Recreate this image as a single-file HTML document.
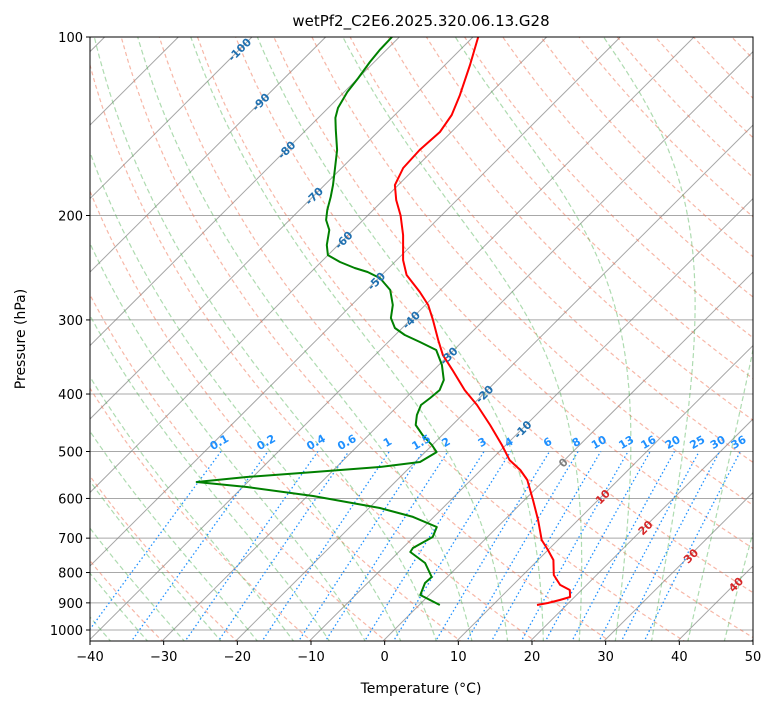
<!DOCTYPE html>
<html><head><meta charset="utf-8"><style>
html,body{margin:0;padding:0;background:#fff;}
svg{display:block;font-family:"DejaVu Sans","Liberation Sans",sans-serif;}
</style></head><body>
<svg id="chart" width="775" height="708" viewBox="0 0 775 708" xmlns="http://www.w3.org/2000/svg">
<defs><clipPath id="clip"><rect x="90" y="37" width="663" height="604"/></clipPath></defs>
<text x="421" y="26" text-anchor="middle" font-size="15">wetPf2_C2E6.2025.320.06.13.G28</text>
<g id="bg" clip-path="url(#clip)"></g>
<g id="data" clip-path="url(#clip)"></g>
<g id="labels"></g>
<rect x="90" y="37" width="663" height="604" fill="none" stroke="#000" stroke-width="1"/>
<g id="axes"></g>
<text x="421" y="693" text-anchor="middle" font-size="14">Temperature (°C)</text>
<text x="25" y="339" text-anchor="middle" font-size="14" transform="rotate(-90 25 339)">Pressure (hPa)</text>
</svg>
<script>
const tempPressure=[100,111.5,125.3,135.4,144.6,155.1,166.3,177.7,188.3,200,215.8,237.8,252,269.2,283.1,300.2,324.3,343.9,364.3,393.9,417.5,451.2,487.5,516.9,537.3,558.5,603.6,652.3,705,732.8,761.9,807.6,839.5,856,879.7,890,900.5,907.6];
const tempValues=[-69.3,-66.6,-63.9,-62.3,-61.6,-61.9,-61.7,-60.5,-58.3,-55.6,-52.6,-49.2,-46.7,-42.6,-39.7,-37.0,-33.6,-30.9,-27.6,-23.2,-19.5,-15.0,-10.7,-7.6,-4.8,-2.5,1.0,4.4,7.6,9.8,11.9,14.0,16.2,18.2,19.2,18.2,17.0,15.8];
const dewPressure=[100,105.2,110.2,117.3,123.8,131.7,136.9,143.5,155.1,167.6,177.7,186.1,195.7,203.5,211.6,224.3,233.2,239.6,245.2,249.1,255,267.1,283.1,297.8,309.5,318.1,326.9,337.2,357.3,378.8,393.9,406.3,417.5,434,451.2,469.1,487.5,501.1,520.9,531.1,541.6,552.1,562.9,574,594.3,622.7,644.7,670.3,696.9,727.2,738.8,770.9,814,833.1,873,907.6];
const dewValues=[-81.0,-80.9,-80.6,-80.0,-79.6,-78.7,-77.7,-76.0,-73.1,-70.7,-68.9,-67.6,-66.3,-65.1,-63.3,-61.6,-60.1,-57.5,-54.7,-52.4,-49.9,-46.9,-44.5,-43.0,-41.1,-38.8,-35.8,-32.5,-29.7,-27.4,-26.6,-26.8,-27.1,-26.3,-25.1,-22.8,-20.2,-18.6,-19.5,-24.3,-32.7,-41.0,-47.1,-39.6,-29.4,-18.7,-13.0,-8.4,-7.6,-8.8,-8.6,-5.1,-2.3,-2.4,-1.4,2.6];
const xTicks=[-40,-30,-20,-10,0,10,20,30,40,50];
const pTicks=[100,200,300,400,500,600,700,800,900,1000];
const mixRatios=[0.1,0.2,0.4,0.6,1,1.5,2,3,4,6,8,10,13,16,20,25,30,36];
const isoLabelT=[-100,-90,-80,-70,-60,-50,-40,-30,-20,-10,0,10,20,30,40];
const isoLabelP=[105,128.7,155,185.4,220,258,300,345,400,459,522,596,672,750,838];

const NS="http://www.w3.org/2000/svg";
const L=90,R=753,T=37,B=641,PXT=(R-L)/90,DEC=593;
function yOf(p){return T+DEC*Math.log10(p/100);}
function xOf(t,p){return L+(t+40)*PXT+(B-yOf(p));}
function mk(tag,attrs,parent){const e=document.createElementNS(NS,tag);for(const k in attrs)e.setAttribute(k,attrs[k]);parent.appendChild(e);return e;}
const bg=document.getElementById('bg'),dg=document.getElementById('data'),lg=document.getElementById('labels'),ax=document.getElementById('axes');
function path(pts){return pts.map((q,i)=>(i?'L':'M')+q[0].toFixed(1)+' '+q[1].toFixed(1)).join('');}

pTicks.forEach(p=>{const l=mk('line',{x1:L,x2:R,y1:yOf(p),y2:yOf(p),stroke:'#a8a8a8','stroke-width':1},bg);
});
for(let t=-200;t<=60;t+=10){const l=mk('line',{x1:xOf(t,1050),y1:B,x2:xOf(t,100),y2:T,stroke:'#808080','stroke-opacity':0.7,'stroke-width':1},bg);
}
for(let th=200;th<=500;th+=10){const pts=[];for(let p=1050;p>=100;p-=10){pts.push([xOf(th*Math.pow(p/1000,0.2857)-273.15,p),yOf(p)]);}
const e=mk('path',{d:path(pts),fill:'none',stroke:'#f07050','stroke-opacity':0.5,'stroke-width':1.2,'stroke-dasharray':'4 3'},bg);
}
function es(tc){return 6.112*Math.exp(17.67*tc/(tc+243.5));}
function dTdp(p,Tk){const e=es(Tk-273.15),rs=0.622*e/(p-e);return (287.04*Tk+2.501e6*rs)/(1005.7+2.501e6*2.501e6*rs*0.622/(287.04*Tk*Tk))/p;}
for(let t0=-40;t0<=45;t0+=5){let Tk=t0+273.15,p=1000;const up=[[xOf(t0,1000),yOf(1000)]];
while(p>100){const dp=-2;const k1=dTdp(p,Tk),k2=dTdp(p+dp,Tk+dp*k1);Tk+=dp*(k1+k2)/2;p+=dp;up.push([xOf(Tk-273.15,p),yOf(p)]);}
Tk=t0+273.15;p=1000;const dn=[];while(p<1050){const dp=2;const k1=dTdp(p,Tk),k2=dTdp(p+dp,Tk+dp*k1);Tk+=dp*(k1+k2)/2;p+=dp;dn.push([xOf(Tk-273.15,p),yOf(p)]);}
const pts=dn.reverse().concat(up);
const e=mk('path',{d:path(pts),fill:'none',stroke:'#4caf50','stroke-opacity':0.45,'stroke-width':1.2,'stroke-dasharray':'5 3'},bg);
}
function tdOf(w,p){const e=w*p/(622+w);const a=Math.log(e/6.112);return 243.5*a/(17.67-a);}
mixRatios.forEach(w=>{const pts=[];for(let p=1050;p>=500;p-=10)pts.push([xOf(tdOf(w,p),p),yOf(p)]);
const e=mk('path',{d:path(pts),fill:'none',stroke:'#1e90ff','stroke-width':1.3,'stroke-dasharray':'1.5 2.5'},bg);

const x=xOf(tdOf(w,500),500),y=yOf(500)-6;
const tx=mk('text',{x:x,y:y,'text-anchor':'middle','font-size':11,'font-weight':'bold',fill:'#1e90ff',transform:`rotate(-30 ${x} ${y})`},lg);
tx.textContent=String(w);});
isoLabelT.forEach((t,i)=>{const p=isoLabelP[i],x=xOf(t,p),y=yOf(p)+4;
const c=t<0?'#2070b0':(t===0?'#808080':'#d62728');
const tx=mk('text',{x:x,y:y,'text-anchor':'middle','font-size':11,'font-weight':'bold',fill:c,transform:`rotate(-45 ${x} ${y-4})`},lg);
tx.textContent=String(t);});
const tp=mk('path',{d:path(tempValues.map((v,i)=>[xOf(v,tempPressure[i]),yOf(tempPressure[i])])),fill:'none',stroke:'#ff0000','stroke-width':2,'stroke-linejoin':'round'},dg);

const dp=mk('path',{d:path(dewValues.map((v,i)=>[xOf(v,dewPressure[i]),yOf(dewPressure[i])])),fill:'none',stroke:'#008000','stroke-width':2,'stroke-linejoin':'round'},dg);

xTicks.forEach(t=>{const x=L+(t+40)*PXT;mk('line',{x1:x,x2:x,y1:B,y2:B+4,stroke:'#000'},ax);
const tx=mk('text',{x:x,y:B+20,'text-anchor':'middle','font-size':13},ax);tx.textContent=(t<0?'\u2212'+(-t):String(t));
});
pTicks.forEach(p=>{const y=yOf(p);mk('line',{x1:L-4,x2:L,y1:y,y2:y,stroke:'#000'},ax);
const tx=mk('text',{x:L-7,y:y+5,'text-anchor':'end','font-size':13},ax);tx.textContent=String(p);
});
</script>
</body></html>
